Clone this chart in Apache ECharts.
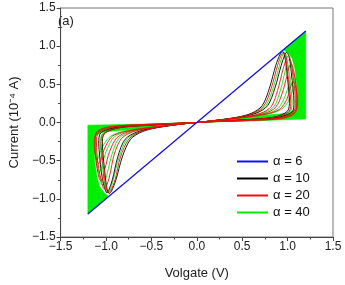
<!DOCTYPE html>
<html>
<head>
<meta charset="utf-8">
<script src="https://cdn.jsdelivr.net/npm/echarts@6/dist/echarts.min.js"></script>
<style>
  html, body { margin: 0; padding: 0; background: #fff; }
  #chart { width: 345px; height: 285px; }
</style>
</head>
<body>
<div id="chart"></div>
<script>
// tick values on both axes
const ticks = [-1.5, -1.0, -0.5, 0.0, 0.5, 1.0, 1.5]

// alpha = 6 : straight line
const alpha6 = [[-1.2, -1.2], [1.2, 1.2]]

// alpha = 10 : two loops
const alpha10a = [[0,0],[0.4,0.06],[0.6,0.12],[0.72,0.22],[0.8,0.45],[0.87,0.75],[0.92,0.9],[0.945,0.93],[0.97,0.86],[0.99,0.68],[1.01,0.45],[1.02,0.28],[1.0,0.15],[0.85,0.07],[0.5,0.035],[0,0],
  [-0.4,-0.06],[-0.6,-0.12],[-0.73,-0.22],[-0.82,-0.45],[-0.89,-0.75],[-0.94,-0.9],[-0.965,-0.93],[-0.99,-0.86],[-1.01,-0.68],[-1.03,-0.45],[-1.04,-0.28],[-1.02,-0.15],[-0.86,-0.07],[-0.5,-0.035],[0,0]]
const alpha10b = [[0,0],[0.4,0.055],[0.65,0.12],[0.78,0.22],[0.86,0.45],[0.93,0.75],[0.97,0.89],[0.99,0.92],[1.02,0.84],[1.04,0.66],[1.06,0.44],[1.07,0.27],[1.05,0.14],[0.88,0.065],[0.5,0.03],[0,0],
  [-0.4,-0.055],[-0.65,-0.12],[-0.79,-0.22],[-0.87,-0.45],[-0.93,-0.75],[-0.97,-0.89],[-0.99,-0.92],[-1.02,-0.84],[-1.05,-0.66],[-1.07,-0.44],[-1.08,-0.27],[-1.06,-0.14],[-0.89,-0.065],[-0.5,-0.03],[0,0]]

// alpha = 20 : four loops
const alpha20a = [[0,0],[0.4,0.058],[0.62,0.12],[0.74,0.22],[0.82,0.45],[0.89,0.75],[0.935,0.9],[0.955,0.92],[0.98,0.85],[1.0,0.67],[1.02,0.45],[1.035,0.28],[1.02,0.15],[0.86,0.07],[0.5,0.033],[0,0],
  [-0.4,-0.058],[-0.62,-0.12],[-0.75,-0.22],[-0.84,-0.45],[-0.9,-0.75],[-0.95,-0.9],[-0.975,-0.92],[-1.0,-0.85],[-1.02,-0.67],[-1.04,-0.45],[-1.055,-0.28],[-1.03,-0.15],[-0.87,-0.07],[-0.5,-0.033],[0,0]]
const alpha20b = [[0,0],[0.45,0.06],[0.7,0.12],[0.82,0.21],[0.89,0.42],[0.95,0.7],[0.99,0.85],[1.01,0.88],[1.04,0.78],[1.06,0.6],[1.08,0.4],[1.085,0.25],[1.06,0.13],[0.9,0.06],[0.5,0.028],[0,0],
  [-0.45,-0.06],[-0.7,-0.12],[-0.83,-0.21],[-0.91,-0.42],[-0.96,-0.7],[-1.0,-0.85],[-1.02,-0.87],[-1.05,-0.77],[-1.08,-0.6],[-1.1,-0.4],[-1.105,-0.25],[-1.08,-0.13],[-0.91,-0.06],[-0.5,-0.028],[0,0]]
const alpha20c = [[0,0],[0.5,0.065],[0.75,0.12],[0.87,0.2],[0.94,0.38],[0.99,0.6],[1.02,0.74],[1.04,0.77],[1.07,0.66],[1.09,0.5],[1.1,0.35],[1.1,0.22],[1.07,0.12],[0.92,0.055],[0.5,0.025],[0,0],
  [-0.5,-0.065],[-0.75,-0.12],[-0.88,-0.2],[-0.96,-0.38],[-1.01,-0.6],[-1.04,-0.74],[-1.06,-0.76],[-1.09,-0.65],[-1.11,-0.5],[-1.12,-0.35],[-1.12,-0.22],[-1.09,-0.12],[-0.93,-0.055],[-0.5,-0.025],[0,0]]
const alpha20d = [[0,0],[0.55,0.07],[0.8,0.12],[0.92,0.18],[0.99,0.3],[1.03,0.45],[1.06,0.54],[1.08,0.5],[1.1,0.4],[1.11,0.28],[1.1,0.17],[1.06,0.1],[0.92,0.05],[0.5,0.022],[0,0],
  [-0.55,-0.07],[-0.8,-0.12],[-0.93,-0.18],[-1.0,-0.3],[-1.05,-0.45],[-1.08,-0.54],[-1.1,-0.5],[-1.12,-0.4],[-1.13,-0.28],[-1.12,-0.17],[-1.08,-0.1],[-0.93,-0.05],[-0.5,-0.022],[0,0]]

// alpha = 40 : four visible loops plus the dense filled part
const alpha40a = [[0,0],[0.4,0.057],[0.63,0.12],[0.76,0.22],[0.84,0.45],[0.91,0.75],[0.95,0.9],[0.97,0.92],[0.99,0.85],[1.015,0.67],[1.035,0.45],[1.05,0.28],[1.03,0.15],[0.87,0.068],[0.5,0.032],[0,0],
  [-0.4,-0.057],[-0.63,-0.12],[-0.77,-0.22],[-0.855,-0.45],[-0.92,-0.75],[-0.96,-0.9],[-0.98,-0.92],[-1.01,-0.85],[-1.03,-0.67],[-1.05,-0.45],[-1.065,-0.28],[-1.04,-0.15],[-0.88,-0.068],[-0.5,-0.032],[0,0]]
const alpha40b = [[0,0],[0.48,0.062],[0.72,0.12],[0.85,0.21],[0.92,0.42],[0.97,0.66],[1.0,0.8],[1.02,0.83],[1.05,0.73],[1.075,0.56],[1.09,0.38],[1.095,0.24],[1.07,0.125],[0.91,0.058],[0.5,0.027],[0,0],
  [-0.48,-0.062],[-0.72,-0.12],[-0.86,-0.21],[-0.935,-0.42],[-0.985,-0.66],[-1.02,-0.8],[-1.04,-0.82],[-1.07,-0.72],[-1.095,-0.56],[-1.11,-0.38],[-1.115,-0.24],[-1.09,-0.125],[-0.92,-0.058],[-0.5,-0.027],[0,0]]
const alpha40c = [[0,0],[0.52,0.068],[0.78,0.12],[0.9,0.19],[0.97,0.34],[1.02,0.52],[1.045,0.63],[1.06,0.65],[1.085,0.57],[1.1,0.44],[1.105,0.3],[1.1,0.19],[1.07,0.11],[0.92,0.052],[0.5,0.024],[0,0],
  [-0.52,-0.068],[-0.78,-0.12],[-0.91,-0.19],[-0.985,-0.34],[-1.035,-0.52],[-1.06,-0.63],[-1.075,-0.65],[-1.1,-0.57],[-1.115,-0.44],[-1.12,-0.3],[-1.12,-0.19],[-1.09,-0.11],[-0.93,-0.052],[-0.5,-0.024],[0,0]]
const alpha40d = [[0,0],[0.56,0.072],[0.82,0.12],[0.94,0.18],[1.01,0.28],[1.05,0.4],[1.075,0.48],[1.09,0.47],[1.105,0.4],[1.115,0.3],[1.11,0.19],[1.08,0.11],[0.93,0.05],[0.5,0.023],[0,0],
  [-0.56,-0.072],[-0.82,-0.12],[-0.95,-0.18],[-1.02,-0.28],[-1.07,-0.4],[-1.095,-0.48],[-1.11,-0.47],[-1.125,-0.4],[-1.135,-0.3],[-1.13,-0.19],[-1.1,-0.11],[-0.94,-0.05],[-0.5,-0.023],[0,0]]
const alpha40FillUR = [[0,0],[0.6,0.02],[1.2,0.045],[1.2,1.2],[0.95,0.95],[1.0,0.92],[1.05,0.84],[1.08,0.7],[1.1,0.5],[1.105,0.3],[1.085,0.17],[1.0,0.12],[0.8,0.1],[0.55,0.075],[0.25,0.035],[0,0]]
const alpha40FillLL = [[0,0],[-0.6,-0.02],[-1.2,-0.035],[-1.2,-1.2],[-0.97,-0.97],[-1.02,-0.92],[-1.07,-0.84],[-1.1,-0.7],[-1.125,-0.5],[-1.13,-0.3],[-1.115,-0.17],[-1.02,-0.12],[-0.8,-0.1],[-0.55,-0.08],[-0.25,-0.035],[0,0]]

const legendNames = ['α = 6', 'α = 10', 'α = 20', 'α = 40']

const BLUE = '#1010ee'
const BLACK = '#000000'
const RED = '#ee1010'
const GREEN = '#00ee00'
const FONT = 'Liberation Sans'

const chart = echarts.init(document.getElementById('chart'))

function fmt(v) {
  return v.toFixed(1).replace('-', '\u2212')
}

function loop(name, data, color) {
  return {
    name: name,
    type: 'line',
    data: data,
    smooth: 0.3,
    symbol: 'none',
    lineStyle: { color: color, width: 0.9 },
    itemStyle: { color: color },
    animation: false
  }
}

function fill(poly) {
  return {
    type: 'custom',
    data: [[0, 0]],
    silent: true,
    animation: false,
    renderItem: function (params, api) {
      return {
        type: 'polygon',
        shape: { points: poly.map(p => api.coord(p)) },
        style: { fill: GREEN, stroke: GREEN, lineWidth: 0.5 }
      }
    }
  }
}

const axisCommon = {
  type: 'value',
  min: -1.5,
  max: 1.5,
  interval: 0.5,
  axisLine: { show: true, onZero: false, lineStyle: { color: '#444', width: 1 } },
  axisTick: { show: true, inside: false, length: 4, lineStyle: { color: '#444' } },
  minorTick: { show: true, splitNumber: 2, length: 2.5, lineStyle: { color: '#444' } },
  splitLine: { show: false },
  axisLabel: {
    color: '#222',
    fontSize: 12,
    fontFamily: FONT,
    formatter: fmt
  },
  nameLocation: 'middle',
  nameTextStyle: { color: '#222', fontSize: 13, fontFamily: FONT }
}

const option = {
  backgroundColor: '#fff',
  animation: false,
  grid: {
    left: 52, right: 12, top: 8, bottom: 46,
    show: true, borderColor: '#777', borderWidth: 1
  },
  xAxis: Object.assign({}, axisCommon, {
    name: 'Volgate (V)',
    nameGap: 30,
    axisLabel: Object.assign({}, axisCommon.axisLabel, { margin: 4 })
  }),
  yAxis: Object.assign({}, axisCommon, {
    name: 'Current (10\u207B\u2074 A)',
    nameGap: 36,
    axisLabel: Object.assign({}, axisCommon.axisLabel, { margin: 5 })
  }),
  legend: {
    data: legendNames,
    orient: 'vertical',
    left: 232,
    top: 149,
    icon: 'rect',
    itemWidth: 31,
    itemHeight: 2,
    itemGap: 2,
    textStyle: { fontSize: 13, lineHeight: 15, fontFamily: FONT, color: '#111' }
  },
  graphic: [{
    type: 'text',
    left: 58,
    top: 15,
    style: { text: '(a)', fontSize: 13, fontFamily: FONT, fill: '#222' }
  }],
  series: [
    fill(alpha40FillUR),
    fill(alpha40FillLL),
    loop('α = 40', alpha40a, GREEN),
    loop('α = 40', alpha40b, GREEN),
    loop('α = 40', alpha40c, GREEN),
    loop('α = 40', alpha40d, GREEN),
    loop('α = 10', alpha10a, BLACK),
    loop('α = 10', alpha10b, BLACK),
    loop('α = 20', alpha20a, RED),
    loop('α = 20', alpha20b, RED),
    loop('α = 20', alpha20c, RED),
    loop('α = 20', alpha20d, RED),
    Object.assign(loop('α = 6', alpha6, BLUE), { smooth: false, lineStyle: { color: BLUE, width: 1.3 } })
  ]
}

chart.setOption(option)
</script>
</body>
</html>
